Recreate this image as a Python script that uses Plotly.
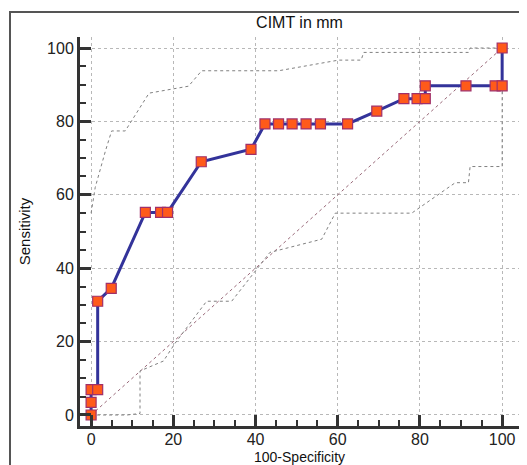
import plotly.graph_objects as go

# ROC curve points (100-Specificity, Sensitivity)
roc_x = [0, 0, 0, 1.6, 1.6, 4.9, 13.2, 16.9, 18.6, 26.8, 38.9, 42.3, 45.6, 48.9, 52.3, 55.8, 62.4, 69.5, 76.1, 79.3, 81.3, 81.3, 91.2, 98.3, 100, 100]
roc_y = [0, 3.45, 6.9, 6.9, 31.0, 34.5, 55.2, 55.2, 55.2, 69.0, 72.4, 79.3, 79.3, 79.3, 79.3, 79.3, 79.3, 82.8, 86.2, 86.2, 86.2, 89.7, 89.7, 89.7, 89.7, 100]

# Upper confidence band
up_x = [0, 1.0, 3.5, 5.0, 8.3, 14.1, 23.7, 26.9, 45.6, 60.2, 65.7, 66.3, 91.8, 92.2, 100]
up_y = [55, 62, 72, 77.4, 77.4, 87.7, 89.6, 93.8, 93.8, 96.7, 96.7, 98.8, 98.8, 100, 100]

# Lower confidence band
lo_x = [0, 8.7, 11.9, 11.9, 17.6, 20.4, 28.1, 34.2, 43.5, 56.1, 59.4, 78.0, 88.6, 91.8, 92.2, 100, 100]
lo_y = [0, 0, 0.4, 12, 14.7, 19.5, 31.0, 31.0, 44.3, 47.9, 55.0, 55.0, 63.3, 63.3, 67.7, 67.7, 100]

diag = [0, 100]
ticks = [0, 20, 40, 60, 80, 100]

fig = go.Figure()
fig.add_trace(go.Scatter(x=diag, y=diag, mode="lines",
                         line=dict(color="#9a6a7a", width=1, dash="dot"), hoverinfo="skip"))
fig.add_trace(go.Scatter(x=up_x, y=up_y, mode="lines",
                         line=dict(color="#808080", width=1, dash="dot"), hoverinfo="skip"))
fig.add_trace(go.Scatter(x=lo_x, y=lo_y, mode="lines",
                         line=dict(color="#808080", width=1, dash="dot"), hoverinfo="skip"))
fig.add_trace(go.Scatter(x=roc_x, y=roc_y, mode="lines+markers",
                         line=dict(color="#33339a", width=3),
                         marker=dict(symbol="square", size=10, color="#ff5a1a",
                                     line=dict(color="#a0306a", width=1.2))))

axis_common = dict(
    showline=True, linecolor="#333333", linewidth=3,
    ticks="inside", ticklen=11, tickwidth=3, tickcolor="#333333",
    tickvals=ticks,
    showgrid=True, gridcolor="#b8b8b8", griddash="dot", gridwidth=1,
    zeroline=False, automargin=False,
    tickfont=dict(family="Liberation Sans, Arial", size=16, color="#222222"),
    minor=dict(ticks="inside", ticklen=6, tickwidth=1.5, tickcolor="#333333", dtick=5, showgrid=False),
)

# the page body adds an 8px offset, so margins are reduced by 8px
fig.update_layout(
    width=527, height=465,
    margin=dict(l=72, r=16, t=29, b=47, autoexpand=False),
    paper_bgcolor="white", plot_bgcolor="white",
    showlegend=False,
    title=dict(text="CIMT in mm", x=0.5, xref="paper", y=1 - 14/465, yanchor="middle",
               automargin=False,
               font=dict(family="Liberation Sans, Arial", size=16, color="#111111")),
    xaxis=dict(range=[-2.7, 104.1], ticklabelstandoff=-3, **axis_common),
    yaxis=dict(range=[-3, 103],
               title=dict(text="Sensitivity", standoff=13,
                          font=dict(family="Liberation Sans, Arial", size=15, color="#111111")),
               **axis_common),
)

fig.add_annotation(text="100-Specificity", xref="paper", yref="paper",
                   x=0.5, y=-(449 - 418) / 389, xanchor="center", yanchor="middle",
                   showarrow=False,
                   font=dict(family="Liberation Sans, Arial", size=14, color="#111111"))

fig.add_shape(type="rect", xref="paper", yref="paper",
              x0=(2 - 72) / 439, x1=1.2, y0=-0.3, y1=1 + 25 / 389,
              line=dict(color="#555555", width=2), layer="below")

fig.write_html("out.html")
